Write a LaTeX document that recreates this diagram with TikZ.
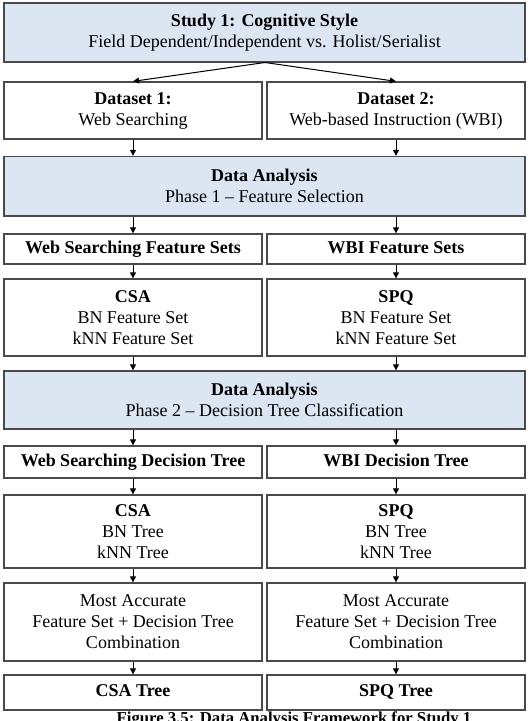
\documentclass[tikz,border=0pt]{standalone}
\usepackage{fontspec}
\setmainfont{Liberation Serif}
\usetikzlibrary{arrows.meta,calc}
\definecolor{boxblue}{HTML}{DCE6F2}
\definecolor{boxline}{HTML}{4A4A4A}
\begin{document}
\begin{tikzpicture}[x=1pt,y=-1pt,
  box/.style={draw=boxline,line width=1.3pt,rectangle,inner sep=0pt,align=center,
    font=\fontsize{18}{21}\selectfont},
  wide/.style={box,fill=boxblue,minimum width=521pt},
  half/.style={box,minimum width=258pt},
  one/.style={text height=12.5pt,text depth=4pt},
  arr/.style={-{Triangle[length=6pt,width=6pt]},line width=1pt,black}]
\useasboundingbox (0,0) rectangle (530,721);
\node[wide,minimum height=59pt] (top) at (264.5,32.5) {\textbf{Study 1: Cognitive Style}\\Field Dependent/Independent vs. Holist/Serialist};
\node[half,minimum height=57pt] (ds1) at (133,110.5) {\textbf{Dataset 1:}\\Web Searching};
\node[half,minimum height=57pt] (ds2) at (396,110.5) {\textbf{Dataset 2:}\\Web-based Instruction (WBI)};
\node[wide,minimum height=59.5pt] (ph1) at (264.5,186.25) {\textbf{Data Analysis}\\Phase 1 – Feature Selection};
\node[half,one,minimum height=30pt] (fs1) at (133,249) {\textbf{Web Searching Feature Sets}};
\node[half,one,minimum height=30pt] (fs2) at (396,249) {\textbf{WBI Feature Sets}};
\node[half,minimum height=77pt] (cs1) at (133,317.5) {\textbf{CSA}\\BN Feature Set\\kNN Feature Set};
\node[half,minimum height=77pt] (cs2) at (396,317.5) {\textbf{SPQ}\\BN Feature Set\\kNN Feature Set};
\node[wide,minimum height=58pt] (ph2) at (264.5,400) {\textbf{Data Analysis}\\Phase 2 – Decision Tree Classification};
\node[half,one,minimum height=32pt] (dt1) at (133,462) {\textbf{Web Searching Decision Tree}};
\node[half,one,minimum height=32pt] (dt2) at (396,462) {\textbf{WBI Decision Tree}};
\node[half,minimum height=73pt] (tr1) at (133,531.5) {\textbf{CSA}\\BN Tree\\kNN Tree};
\node[half,minimum height=73pt] (tr2) at (396,531.5) {\textbf{SPQ}\\BN Tree\\kNN Tree};
\node[half,minimum height=78pt] (ma1) at (133,622) {Most Accurate\\Feature Set + Decision Tree\\Combination};
\node[half,minimum height=78pt] (ma2) at (396,622) {Most Accurate\\Feature Set + Decision Tree\\Combination};
\node[half,one,minimum height=35pt] (ct1) at (133,692.5) {\textbf{CSA Tree}};
\node[half,one,minimum height=35pt] (ct2) at (396,692.5) {\textbf{SPQ Tree}};
\node[anchor=north,inner sep=0pt,font=\fontsize{16.7}{20}\selectfont\bfseries] (cap) at (294,712) {Figure 3.5: Data Analysis Framework for Study 1};
% connectors
\coordinate (split) at (265,62.5);
\draw[arr] (split) -- (ds1.north);
\draw[arr] (split) -- (ds2.north);
\draw[arr] (ds1.south) -- (ds1.south |- ph1.north);
\draw[arr] (ds2.south) -- (ds2.south |- ph1.north);
\draw[arr] (fs1.north |- ph1.south) -- (fs1.north);
\draw[arr] (fs2.north |- ph1.south) -- (fs2.north);
\draw[arr] (fs1) -- (cs1);
\draw[arr] (fs2) -- (cs2);
\draw[arr] (cs1.south) -- (cs1.south |- ph2.north);
\draw[arr] (cs2.south) -- (cs2.south |- ph2.north);
\draw[arr] (dt1.north |- ph2.south) -- (dt1.north);
\draw[arr] (dt2.north |- ph2.south) -- (dt2.north);
\draw[arr] (dt1) -- (tr1);
\draw[arr] (dt2) -- (tr2);
\draw[arr] (tr1) -- (ma1);
\draw[arr] (tr2) -- (ma2);
\draw[arr] (ma1) -- (ct1);
\draw[arr] (ma2) -- (ct2);
\end{tikzpicture}
\end{document}
